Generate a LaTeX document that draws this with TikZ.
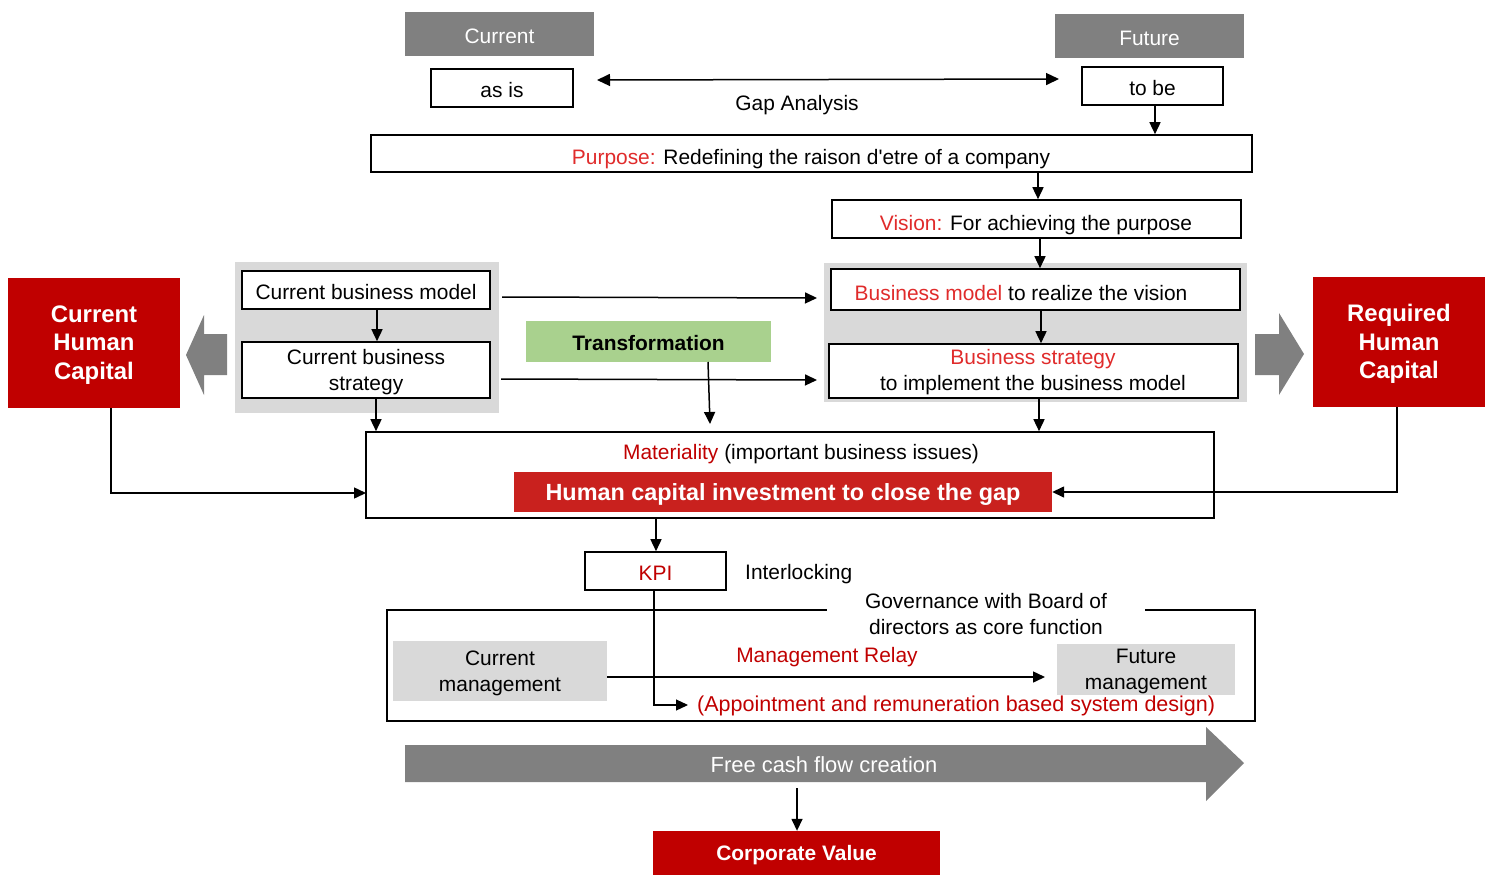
\documentclass[tikz,border=0pt]{standalone}
\usepackage{fontspec}
\setmainfont{Liberation Sans}[Ligatures=TeXOff]
\usetikzlibrary{arrows.meta}
\definecolor{hdr}{HTML}{808080}
\definecolor{lg}{HTML}{D9D9D9}
\definecolor{dred}{HTML}{C00000}
\definecolor{bred}{HTML}{C9211E}
\definecolor{tred}{HTML}{E02B2B}
\definecolor{grn}{HTML}{A9D18E}
% name, x1, y1, x2, y2, box style, text style, text
\newcommand\rectnode[8]{%
  \node[#6, minimum width={(#4-#2)*1bp}, minimum height={(#5-#3)*1bp}] (#1) at ({(#2+#4)/2},{(#3+#5)/2}) {};
  \node[inner sep=0pt, align=center, #7] (#1t) at ([yshift=-2bp]#1.center) {#8};}
\begin{document}
\begin{tikzpicture}[x=1bp,y=-1bp,
  font=\fontsize{21}{26}\selectfont,
  box/.style={draw=black, line width=1.6bp, fill=white, inner sep=0pt},
  hdrbox/.style={fill=hdr, inner sep=0pt},
  bgbox/.style={fill=lg, inner sep=0pt},
  redfill/.style={fill=dred, inner sep=0pt},
  hctext/.style={text=white, font=\fontsize{24}{28.5}\selectfont\bfseries},
  arr/.style={-{Triangle[length=12bp,width=11bp]}, line width=1.5bp},
  darr/.style={{Triangle[length=13bp,width=12bp]}-{Triangle[length=13bp,width=12bp]}, line width=1.5bp},
  txt/.style={inner sep=0pt, align=center}]
\useasboundingbox (0,0) rectangle (1491,875);

% headers
\rectnode{curhdr}{405}{12}{594}{56}{hdrbox}{text=white}{Current}
\rectnode{futhdr}{1055}{14}{1244}{58}{hdrbox}{text=white}{Future}
\rectnode{asis}{431}{69}{573}{107}{box}{}{as is}
\rectnode{tobe}{1082}{67}{1223}{105}{box}{}{to be}
\coordinate (ga1) at (597,80);
\coordinate (ga2) at (1059,79);
\draw[darr] (ga1) -- (ga2);
\node[txt] (gap) at (797,105) {Gap Analysis};

% purpose / vision
\rectnode{purpose}{371}{135}{1252}{172}{box}{}{}
\node[txt] (purposetxt) at (811,159) {\textcolor{tred}{Purpose:} Redefining the raison d'etre of a company};
\rectnode{vision}{832}{200}{1241}{238}{box}{}{}
\node[txt] (visiontxt) at (1036,225) {\textcolor{tred}{Vision:} For achieving the purpose};
\draw[arr] (tobe.south -| 1155,0) -- (1155,0 |- purpose.north);

% backgrounds
\rectnode{rbg}{824}{263}{1247}{402}{bgbox}{}{}
\rectnode{lbg}{235}{262}{499}{413}{bgbox}{}{}

% right boxes
\rectnode{bm}{831}{269}{1240}{310}{box}{}{}
\node[txt] (bmtxt) at (1021,293) {\textcolor{tred}{Business model} to realize the vision};
\rectnode{bs}{829}{344}{1238}{398}{box}{}{}
\node[txt] (bstxt) at (1033,372) {\textcolor{tred}{Business strategy}\\to implement the business model};

% left boxes
\rectnode{cbm}{242}{271}{490}{309}{box}{}{Current business model}
\rectnode{cbs}{242}{342}{490}{398}{box}{}{Current business\\strategy}

% transformation
\rectnode{trans}{526}{321}{771}{362}{fill=grn, inner sep=0pt}{font=\fontsize{21}{26}\selectfont\bfseries}{Transformation}

% human capital boxes
\rectnode{chc}{8}{278}{180}{408}{redfill}{hctext}{Current\\Human\\Capital}
\rectnode{rhc}{1313}{277}{1485}{407}{redfill}{hctext}{Required\\Human\\Capital}
\fill[hdr] (227,334) -- (204,334) -- (204,315) -- (186,355) -- (204,395) -- (204,375) -- (227,375) -- cycle;
\fill[hdr] (1255,334) -- (1279,334) -- (1279,313) -- (1304,354) -- (1279,395) -- (1279,375) -- (1255,375) -- cycle;

% materiality
\rectnode{mat}{366}{432}{1214}{518}{box}{}{}
\node[txt] (mattxt) at (801,454) {\textcolor{dred}{Materiality} (important business issues)};
\rectnode{hci}{514}{472}{1052}{512}{fill=bred, inner sep=0pt}{text=white, font=\fontsize{23.5}{27}\selectfont\bfseries}{Human capital investment to close the gap}

% vertical connectors
\draw[arr] (1038,0 |- purpose.south) -- (1038,0 |- vision.north);
\draw[arr] (1040,0 |- vision.south) -- (1040,0 |- bm.north);
\draw[arr] (1041,0 |- bm.south) -- (1041,0 |- bs.north);
\draw[arr] (1039,0 |- bs.south) -- (1039,0 |- mat.north);
\draw[arr] (377,0 |- cbm.south) -- (377,0 |- cbs.north);
\draw[arr] (376,0 |- cbs.south) -- (376,0 |- mat.north);
\coordinate (l1s) at (502,297);
\coordinate (l1e) at (817,298);
\coordinate (l2s) at (501,379);
\coordinate (l2e) at (817,380);
\draw[arr] (l1s) -- (l1e);
\draw[arr] (l2s) -- (l2e);
\coordinate (tstart) at (708,362);
\coordinate (tend) at (710,424);
\draw[arr] (tstart) -- (tend);

% human capital lines
\coordinate (chcdown) at (111,408);
\coordinate (chcin) at (366,493);
\draw[arr] (chcdown) |- (chcin);
\coordinate (rhcdown) at (1397,407);
\draw[arr] (rhcdown) |- (hci.east);

% KPI
\rectnode{kpi}{585}{552}{726}{590}{box}{text=dred}{KPI}
\draw[arr] (656,0 |- mat.south) -- (656,0 |- kpi.north);
\node[txt, anchor=west] (inter) at (745,574) {Interlocking};

% governance
\rectnode{gov}{387}{610}{1255}{721}{draw=black, line width=1.6bp, inner sep=0pt}{}{}
\node[fill=white, inner xsep=38bp, inner ysep=0pt, align=center] (govtxt) at (986,614) {Governance with Board of\\directors as core function};
\rectnode{cmg}{393}{641}{607}{701}{bgbox}{}{Current\\management}
\rectnode{fmg}{1057}{644}{1235}{695}{bgbox}{}{Future\\management}
\coordinate (relay1) at (607,677);
\coordinate (relay2) at (1045,677);
\draw[arr] (relay1) -- (relay2);
\node[txt, text=dred] (relaytxt) at (827,657) {Management Relay};
\coordinate (kpiend) at (688,705);
\draw[arr, line width=1.2bp] (654,0 |- kpi.south) |- (kpiend);
\node[txt, anchor=west, text=dred, font=\fontsize{21.6}{26}\selectfont] (apptxt) at (697,706) {(Appointment and remuneration based system design)};

% free cash flow
\fill[hdr] (405,745) -- (1206,745) -- (1206,727) -- (1244,763) -- (1206,801) -- (1206,782) -- (405,782) -- cycle;
\node[txt, text=white, font=\fontsize{22}{26}\selectfont] (fcf) at (824,765) {Free cash flow creation};
\rectnode{cv}{653}{831}{940}{875}{redfill}{text=white, font=\fontsize{21}{26}\selectfont\bfseries}{Corporate Value}
\coordinate (fcfdown) at (797,788);
\draw[arr] (fcfdown) -- (797,0 |- cv.north);
\end{tikzpicture}
\end{document}
